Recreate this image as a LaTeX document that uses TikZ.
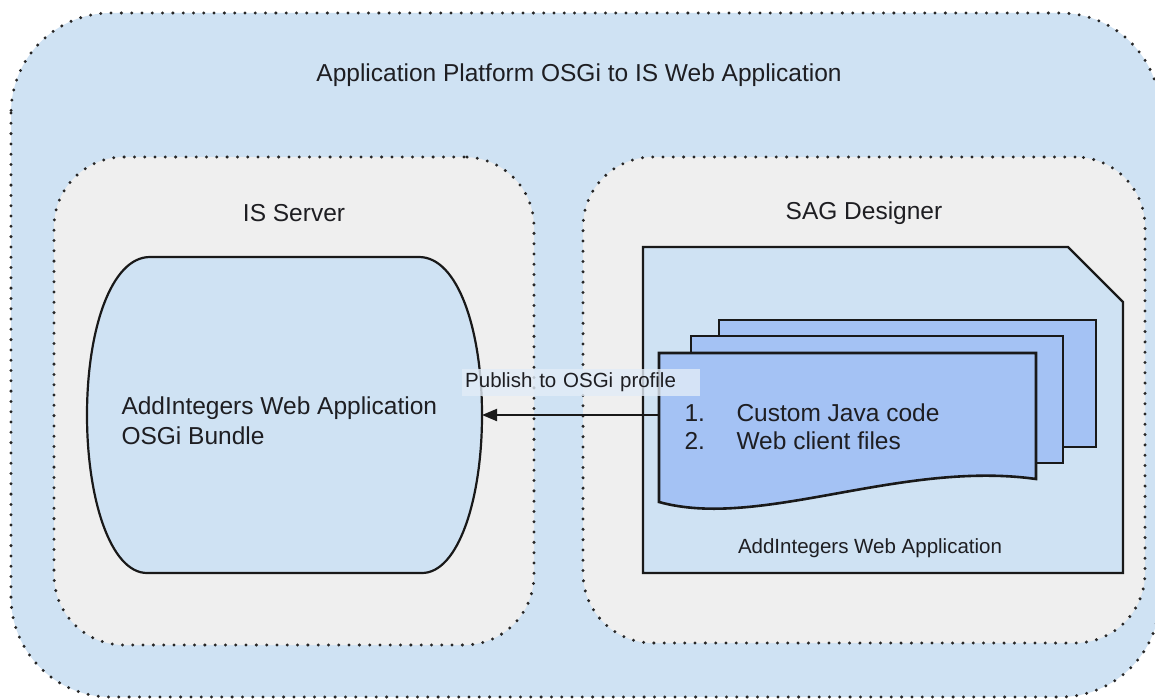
\documentclass[tikz,border=0pt]{standalone}
\usepackage{fontspec}
\setmainfont{Liberation Sans}
\usetikzlibrary{arrows.meta}
\definecolor{outerblue}{HTML}{CFE2F3}
\definecolor{boxgray}{HTML}{EFEFEF}
\definecolor{docblue}{HTML}{A4C2F4}
\definecolor{txt}{HTML}{1E1E22}
\definecolor{lblfill}{HTML}{E2ECF7}
\tikzset{
  dotline/.style={draw=black!85, line width=3.3pt, line cap=round, dash pattern=on 0pt off 10.3pt},
  container/.style={dotline, fill=boxgray, rounded corners=70pt, inner sep=0pt},
  solidline/.style={draw=black!90, line width=2.2pt, line join=miter},
  docline/.style={draw=black!90, line width=2.6pt, fill=docblue, line join=miter},
  ghost/.style={inner sep=0pt, outer sep=0pt},
  bigtext/.style={text=txt, font=\fontsize{24.5}{30}\selectfont},
  smalltext/.style={text=txt, font=\fontsize{20.5}{24}\selectfont},
  arrowline/.style={draw=black!90, line width=2pt, -{Triangle[length=15pt,width=12pt]}},
  labelbox/.style={smalltext, fill=lblfill, fill opacity=0.8, text opacity=1, inner sep=3pt, text width=232pt, align=left, minimum height=27pt}
}
\begin{document}
\begin{tikzpicture}[x=1pt,y=-1pt]
\useasboundingbox (0,0) rectangle (1155,698);
\clip (0,0) rectangle (1155,698);
\fill[white] (0,0) rectangle (1155,698);
% outer container
\draw[dotline, fill=outerblue, rounded corners=100pt] (11,13) rectangle (1160,697);
\node[bigtext] (title) at (579,75) {Application Platform OSGi to IS Web Application};
% inner containers
\node[container, minimum width=480pt, minimum height=488pt] (is) at (294,401) {};
\node[container, minimum width=562pt, minimum height=486pt] (sag) at (864,400) {};
\node[bigtext] (istitle) at (294,213) {IS Server};
\node[bigtext] (sagtitle) at (864,213) {SAG Designer};
% bundle shape
\node[ghost, minimum width=395pt, minimum height=316pt] (bundle) at (284.5,415) {};
\draw[solidline, fill=outerblue] (150,257) -- (419,257)
  .. controls (458,257) and (482,330) .. (482,415)
  .. controls (482,500) and (458,573) .. (422,573) -- (147,573)
  .. controls (111,573) and (87,500) .. (87,415)
  .. controls (87,330) and (111,257) .. (150,257) -- cycle;
\node[bigtext, anchor=west, align=left] (bundletext) at (118,421) {AddIntegers Web Application\\OSGi Bundle};
% card
\draw[solidline, fill=outerblue] (643,247) -- (1068,247) -- (1123,302) -- (1123,573) -- (643,573) -- cycle;
\node[smalltext] (cardlabel) at (870,548) {AddIntegers Web Application};
% document stack
\draw[docline] (719,320) rectangle (1096,447);
\draw[docline] (691,336) rectangle (1063,463);
\node[ghost, minimum width=377pt, minimum height=149pt] (front) at (847.5,427.5) {};
\draw[docline] (659,353) -- (1036,353) -- (1036,479)
  .. controls (900,460) and (760,530) .. (659,502) -- cycle;
\node[bigtext, anchor=west, align=left] (doctext) at (681,427) {\makebox[52pt][l]{1.}Custom Java code\\[-2pt]\makebox[52pt][l]{2.}Web client files};
% arrow
\draw[arrowline] (front.west |- bundle.east) -- (bundle.east);
\node[labelbox, anchor=west] (publabel) at (462,382.5) {Publish to OSGi profile};
\end{tikzpicture}
\end{document}
